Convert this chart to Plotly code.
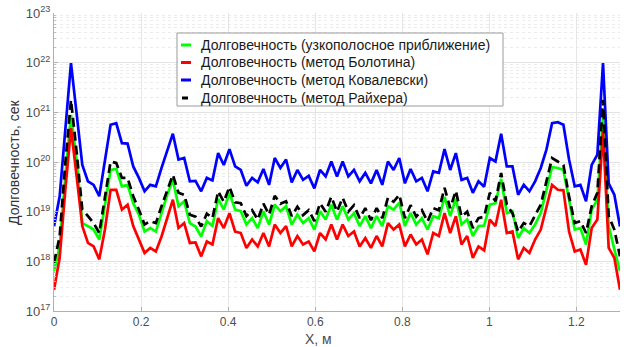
import numpy as np
import plotly.graph_objects as go

# Координата вдоль балки, м (101 точка, шаг 0.013)
x_m = np.linspace(0.0, 1.3, 101)

# Долговечность, показатель степени: T = 10**lg, сек
lg_narrowband = [
    17.80, 18.30, 19.71, 20.95, 20.05, 18.77, 18.71, 18.64, 18.44, 19.11,
    19.84, 19.86, 19.51, 19.54, 19.17, 18.94, 18.60, 18.67, 18.60, 18.97,
    19.34, 19.64, 19.11, 19.21, 18.77, 18.70, 18.50, 18.81, 18.71, 19.26,
    19.04, 19.38, 19.04, 19.01, 18.74, 18.87, 18.67, 19.01, 18.74, 19.14,
    19.01, 19.11, 18.74, 18.94, 18.77, 18.87, 18.64, 19.01, 18.84, 19.14,
    18.84, 19.11, 18.84, 18.97, 18.71, 18.91, 18.67, 18.91, 18.71, 19.11,
    19.04, 19.18, 18.71, 18.97, 18.74, 18.87, 18.64, 18.91, 18.87, 19.30,
    18.91, 19.26, 18.74, 18.84, 18.51, 18.71, 18.72, 19.14, 19.17, 19.66,
    18.97, 19.01, 18.47, 18.67, 18.57, 18.74, 18.97, 19.44, 19.90, 19.88,
    19.84, 19.24, 18.64, 18.67, 18.34, 19.04, 19.24, 20.95, 18.71, 18.24,
    17.80,
]
lg_bolotin = [
    17.43, 18.07, 19.44, 20.68, 19.71, 18.71, 18.37, 18.30, 18.04, 18.64,
    19.44, 19.44, 19.04, 19.14, 18.71, 18.44, 18.17, 18.27, 18.20, 18.50,
    18.87, 19.24, 18.67, 18.77, 18.37, 18.38, 18.10, 18.40, 18.34, 18.87,
    18.67, 18.97, 18.60, 18.57, 18.27, 18.44, 18.30, 18.57, 18.30, 18.74,
    18.57, 18.71, 18.30, 18.51, 18.34, 18.40, 18.20, 18.57, 18.44, 18.74,
    18.44, 18.74, 18.51, 18.60, 18.30, 18.47, 18.27, 18.51, 18.30, 18.77,
    18.64, 18.74, 18.30, 18.54, 18.34, 18.44, 18.14, 18.57, 18.51, 18.97,
    18.57, 18.91, 18.34, 18.51, 18.07, 18.30, 18.22, 18.84, 18.71, 19.24,
    18.57, 18.60, 18.04, 18.27, 18.17, 18.44, 18.64, 19.11, 19.54, 19.44,
    19.43, 18.60, 18.20, 18.24, 17.93, 18.67, 18.84, 20.62, 18.27, 18.07,
    17.43,
]
lg_kowalewski = [
    18.70, 19.31, 20.65, 21.99, 20.97, 19.94, 19.61, 19.54, 19.31, 20.05,
    20.75, 20.78, 20.38, 20.37, 19.91, 19.68, 19.41, 19.54, 19.51, 19.88,
    20.21, 20.57, 20.05, 20.08, 19.61, 19.62, 19.41, 19.68, 19.63, 20.18,
    19.94, 20.26, 19.91, 19.84, 19.52, 19.68, 19.59, 19.86, 19.54, 20.08,
    19.88, 20.05, 19.59, 19.84, 19.64, 19.72, 19.47, 19.84, 19.71, 20.01,
    19.71, 20.01, 19.71, 19.84, 19.61, 19.78, 19.57, 19.84, 19.54, 20.01,
    19.84, 20.08, 19.57, 19.86, 19.61, 19.68, 19.41, 19.81, 19.78, 20.26,
    19.84, 20.18, 19.64, 19.68, 19.38, 19.61, 19.50, 20.08, 20.01, 20.57,
    19.91, 19.91, 19.34, 19.54, 19.41, 19.61, 19.88, 20.25, 20.78, 20.80,
    20.75, 20.05, 19.51, 19.54, 19.21, 19.94, 20.15, 21.99, 19.57, 19.34,
    18.70,
]
lg_rice = [
    17.97, 18.50, 19.98, 21.25, 20.20, 19.04, 18.91, 18.77, 18.57, 19.31,
    20.01, 19.98, 19.68, 19.68, 19.31, 19.04, 18.74, 18.81, 18.77, 19.11,
    19.44, 19.74, 19.38, 19.34, 18.94, 18.90, 18.70, 18.96, 18.87, 19.41,
    19.20, 19.50, 19.19, 19.17, 18.91, 19.03, 18.84, 19.16, 18.94, 19.32,
    19.16, 19.21, 18.91, 19.10, 18.93, 19.03, 18.81, 19.17, 19.00, 19.30,
    19.00, 19.28, 19.00, 19.13, 18.87, 19.07, 18.83, 19.07, 18.87, 19.28,
    19.20, 19.34, 18.87, 19.13, 18.90, 19.03, 18.80, 19.07, 19.03, 19.48,
    19.07, 19.42, 18.90, 19.00, 18.67, 18.87, 18.90, 19.38, 19.21, 19.78,
    19.14, 18.97, 18.60, 18.77, 18.71, 18.94, 19.14, 19.61, 20.08, 20.01,
    19.94, 19.31, 18.77, 18.81, 18.57, 19.11, 19.38, 21.25, 18.91, 18.64,
    18.10,
]

series_names = [
    "Долговечность (узкополосное приближение)",
    "Долговечность (метод Болотина)",
    "Долговечность (метод Ковалевски)",
    "Долговечность (метод Райхера)",
]
series_lg = [lg_narrowband, lg_bolotin, lg_kowalewski, lg_rice]
series_colors = ["#00ff00", "#ff0000", "#0000ff", "#000000"]
series_dash = ["solid", "solid", "solid", "9px,5px"]

x_ticks = [0, 0.2, 0.4, 0.6, 0.8, 1.0, 1.2]
x_tick_text = ["0", "0.2", "0.4", "0.6", "0.8", "1", "1.2"]
y_decades = [17, 18, 19, 20, 21, 22, 23]

W, H = 624, 347
ML, MR, MT, MB = 54, 4, 13, 36
PW, PH = W - ML - MR, H - MT - MB

fig = go.Figure()
for name, lg, col, dash in zip(series_names, series_lg, series_colors, series_dash):
    fig.add_trace(go.Scatter(
        x=x_m, y=10.0 ** np.asarray(lg), mode="lines", name=name,
        line=dict(color=col, width=2.7, dash=dash),
        showlegend=False, hoverinfo="skip",
    ))

minor_vals = [m * 10.0 ** d for d in y_decades[:-1] for m in range(2, 10)]

fig.update_layout(
    width=W, height=H,
    margin=dict(l=ML, r=MR, t=MT, b=MB),
    paper_bgcolor="white", plot_bgcolor="white",
    font=dict(family="Liberation Sans, Arial, sans-serif", size=13, color="#4d4d4d"),
    xaxis=dict(
        range=[0, 1.3], tickmode="array", tickvals=x_ticks, ticktext=x_tick_text,
        showgrid=True, gridcolor="#e6e6e6", gridwidth=1, zeroline=False,
        showline=True, linecolor="#b0b0b0", linewidth=1,
        ticks="inside", ticklen=4, tickcolor="#b0b0b0",
        tickfont=dict(size=12, color="#4d4d4d"),
    ),
    yaxis=dict(
        type="log", range=[17, 23], tickmode="array",
        tickvals=[10.0 ** d for d in y_decades],
        ticktext=[f"10<sup>{d}</sup>" for d in y_decades],
        showgrid=True, gridcolor="#e3e3e3", gridwidth=1, zeroline=False,
        showline=True, linecolor="#b0b0b0", linewidth=1,
        ticks="inside", ticklen=4, tickcolor="#b0b0b0",
        tickfont=dict(size=13, color="#4d4d4d"),
        minor=dict(tickmode="array", tickvals=minor_vals, showgrid=True,
                   gridcolor="#ececec", griddash="dot", gridwidth=1,
                   ticks="inside", ticklen=2, tickcolor="#c0c0c0"),
    ),
)


def px_x(p):
    return (p - ML) / PW


def px_y(p):
    return (H - MB - p) / PH


# Axis titles
fig.add_annotation(text="X, м", x=px_x(318), y=px_y(339), xref="paper", yref="paper",
                   showarrow=False, font=dict(size=14, color="#4d4d4d"),
                   xanchor="center", yanchor="middle")
fig.add_annotation(text="Долговечность, сек", x=px_x(14), y=px_y(162), xref="paper",
                   yref="paper", showarrow=False, textangle=-90,
                   font=dict(size=14, color="#333333"), xanchor="center", yanchor="middle")

# Legend box
box_l, box_r, box_t, box_b = 177, 503, 33, 106
fig.add_shape(type="rect", xref="paper", yref="paper",
              x0=px_x(box_l), x1=px_x(box_r), y0=px_y(box_b), y1=px_y(box_t),
              line=dict(color="#9a9a9a", width=1), fillcolor="white", layer="above")
row_y = [45, 62.5, 80, 98]
for name, col, yy in zip(series_names, series_colors, row_y):
    x0, x1 = 181, 191
    if col == "#000000":
        x0, x1 = 182, 188
    fig.add_shape(type="line", xref="paper", yref="paper",
                  x0=px_x(x0), x1=px_x(x1), y0=px_y(yy), y1=px_y(yy),
                  line=dict(color=col, width=3), layer="above")
    fig.add_annotation(text=name, x=px_x(199), y=px_y(yy), xref="paper", yref="paper",
                       showarrow=False, xanchor="left", yanchor="middle",
                       font=dict(size=14, color="#1a1a1a"))

fig.write_html("out.html")
